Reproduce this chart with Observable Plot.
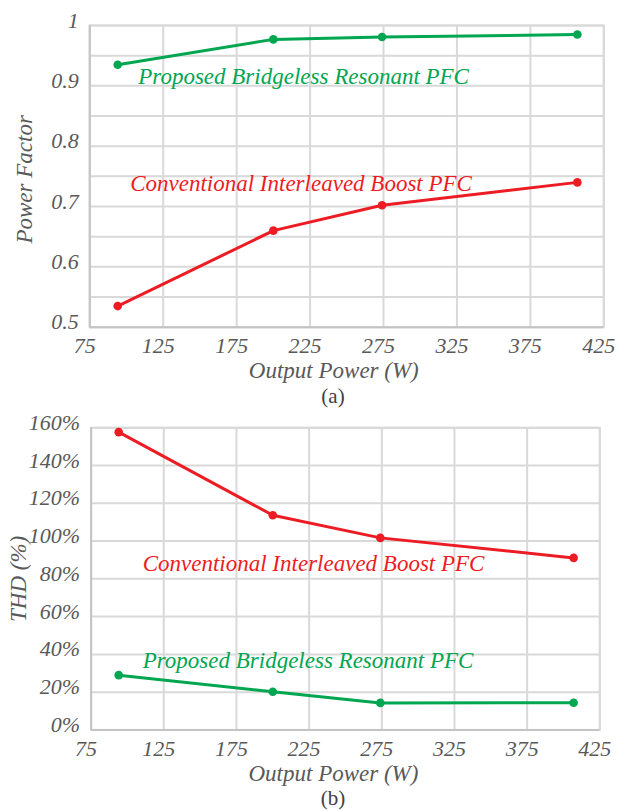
<!DOCTYPE html>
<html>
<head>
<meta charset="utf-8">
<script src="https://cdn.jsdelivr.net/npm/d3@7"></script>
<script src="https://cdn.jsdelivr.net/npm/@observablehq/plot@0.6"></script>
<style>
  html, body { margin: 0; padding: 0; background: #fff; }
  #root { width: 618px; }
  .cap { width: 618px; box-sizing: border-box; padding-left: 48px; text-align: center;
         font-family: "Liberation Serif", "Times New Roman", Tinos, "DejaVu Serif", serif; font-size: 21px; color: #404040; }
  svg { display: block; }
</style>
</head>
<body>
<div id="root"></div>
<script>
// ---- data ----
const outputPower = [94, 200, 274, 407];
const pfProposed = [0.935, 0.977, 0.981, 0.985];
const pfConventional = [0.535, 0.660, 0.702, 0.740];
const thdProposed = [29.0, 20.2, 14.3, 14.4];
const thdConventional = [157.7, 113.7, 101.7, 91.1];

const seriesNames = ["Proposed Bridgeless Resonant PFC", "Conventional Interleaved Boost PFC"];
const xTicks = [75, 125, 175, 225, 275, 325, 375, 425];
const pfTicks = [0.5, 0.6, 0.7, 0.8, 0.9, 1];
const pfGrid = [0.5, 0.55, 0.6, 0.65, 0.7, 0.75, 0.8, 0.85, 0.9, 0.95, 1];
const thdTicks = [0, 20, 40, 60, 80, 100, 120, 140, 160];
const xTitle = "Output Power (W)";
const pfTitle = "Power Factor";
const thdTitle = "THD (%)";
const captions = ["(a)", "(b)"];
// annotation anchors (data units)
const pfLabelPos = [[108, 0.9155], [102.5, 0.7386]];
const thdLabelPos = [[110.5, 36.8], [110.5, 88.0]];

const colors = ["#00a650", "#ed1c24"];
const gridColor = "#d9d9d9";
const axisColor = "#c4c4c4";
const textColor = "#595959";
const serif = "'Liberation Serif', 'Times New Roman', Tinos, 'DejaVu Serif', serif";

function rows(ys) { return outputPower.map((w, i) => ({w, v: ys[i]})); }

function chart({height, margins, yDomain, yTicks, yGrid, yFormat, series, labelPos, yTitle, yTitleDx, yTitleDy, xTitleDx, xTitleDy}) {
  const marks = [
    Plot.gridX(xTicks, {stroke: gridColor, strokeOpacity: 1, strokeWidth: 2}),
    Plot.gridY(yGrid, {stroke: gridColor, strokeOpacity: 1, strokeWidth: 2}),
    Plot.frame({stroke: gridColor, strokeWidth: 2}),
    Plot.ruleX([xTicks[0]], {stroke: axisColor, strokeWidth: 2}),
    Plot.ruleY([yDomain[0]], {stroke: axisColor, strokeWidth: 2}),
    Plot.axisX(xTicks, {tickSize: 0, tickPadding: 10, dx: -5, fontStyle: "italic", fontFamily: serif, fill: textColor, fontSize: 22, label: null}),
    Plot.axisY(yTicks, {tickSize: 0, tickPadding: 11, dy: -5, fontStyle: "italic", fontFamily: serif, fill: textColor, fontSize: 22, tickFormat: yFormat, label: null}),
  ];
  series.forEach((ys, k) => {
    marks.push(Plot.line(rows(ys), {x: "w", y: "v", stroke: colors[k], strokeWidth: 3}));
    marks.push(Plot.dot(rows(ys), {x: "w", y: "v", fill: colors[k], r: 4.3}));
    marks.push(Plot.text([seriesNames[k]], {x: () => labelPos[k][0], y: () => labelPos[k][1], text: d => d,
      textAnchor: "start", lineAnchor: "middle", fill: colors[k], fontStyle: "italic", fontFamily: serif, fontSize: 23}));
  });
  marks.push(Plot.text([xTitle], {frameAnchor: "bottom", text: d => d, dx: xTitleDx, dy: xTitleDy,
    textAnchor: "middle", lineAnchor: "middle", fontStyle: "italic", fontFamily: serif, fill: textColor, fontSize: 23}));
  marks.push(Plot.text([yTitle], {frameAnchor: "left", text: d => d, rotate: -90, dx: yTitleDx, dy: yTitleDy,
    textAnchor: "middle", lineAnchor: "middle", fontStyle: "italic", fontFamily: serif, fill: textColor, fontSize: 23}));
  return Plot.plot({
    width: 618, height,
    marginTop: margins[0], marginRight: margins[1], marginBottom: margins[2], marginLeft: margins[3],
    x: {domain: [xTicks[0], xTicks[xTicks.length - 1]]},
    y: {domain: yDomain},
    style: {fontFamily: serif, fontSize: "22px", background: "#fff", overflow: "visible"},
    marks
  });
}

const root = document.getElementById("root");
root.appendChild(chart({
  height: 385, margins: [25, 14.7, 58.3, 89.3],
  yDomain: [0.5, 1], yTicks: pfTicks, yGrid: pfGrid, yFormat: d3.format("~g"),
  series: [pfProposed, pfConventional], labelPos: pfLabelPos,
  yTitle: pfTitle, yTitleDx: -65.6, yTitleDy: 3, xTitleDx: -13, xTitleDy: 43.5
}));
const capA = document.createElement("div");
capA.className = "cap"; capA.style.height = "22px"; capA.style.lineHeight = "22px";
capA.textContent = captions[0];
root.appendChild(capA);
root.appendChild(chart({
  height: 381, margins: [20.3, 18.7, 58.6, 90.6],
  yDomain: [0, 160], yTicks: thdTicks, yGrid: thdTicks, yFormat: d => d + "%",
  series: [thdProposed, thdConventional], labelPos: thdLabelPos,
  yTitle: thdTitle, yTitleDx: -72.8, yTitleDy: 0, xTitleDx: -12, xTitleDy: 43.6
}));
const capB = document.createElement("div");
capB.className = "cap"; capB.style.height = "23px"; capB.style.lineHeight = "21px";
capB.textContent = captions[1];
root.appendChild(capB);
</script>
</body>
</html>
